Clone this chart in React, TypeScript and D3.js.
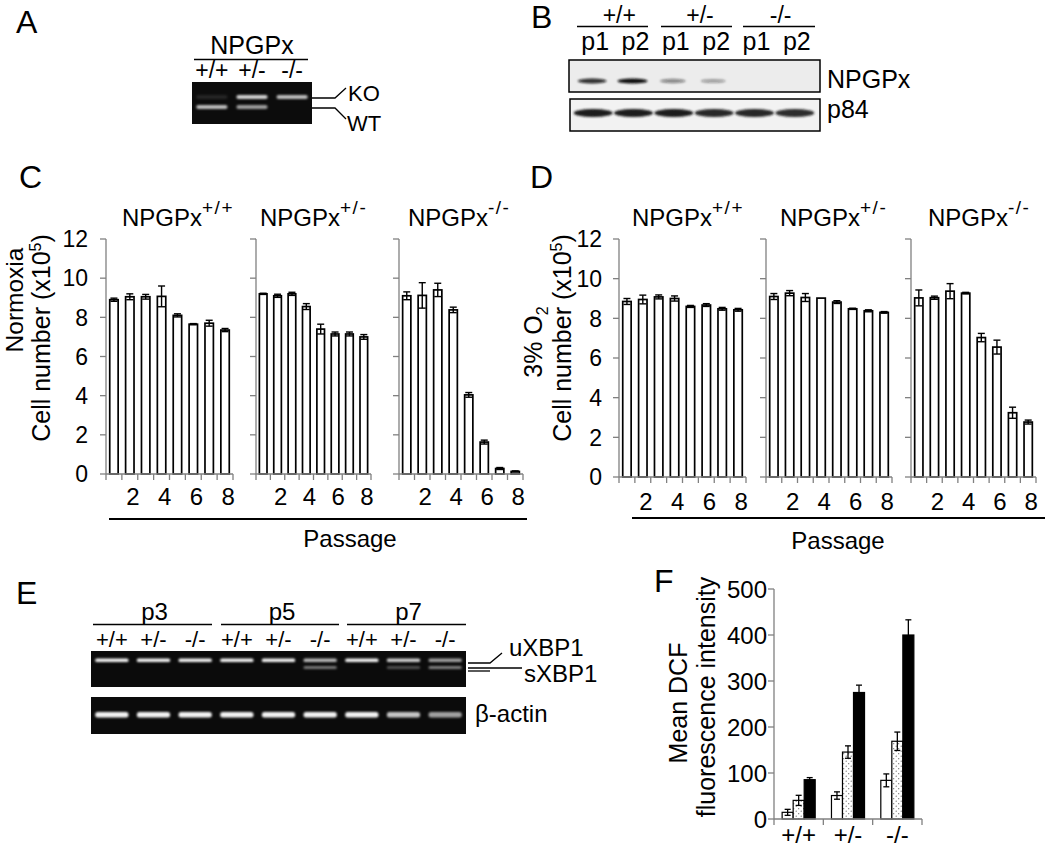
import React from "react";
import * as d3 from "d3";

const FONT = "'Liberation Sans', Arial, Helvetica, sans-serif";
const AXIS = "#808080";

// ---------- Panel A (genotyping PCR) ----------
const gelAGenotypes = ["+/+", "+/-", "-/-"];
const gelAKO = [0.12, 0.95, 0.85];
const gelAWT = [0.85, 0.7, 0.0];

// ---------- Panel B (western blot) ----------
const blotBGroups = ["+/+", "+/-", "-/-"];
const blotBLanes = ["p1", "p2", "p1", "p2", "p1", "p2"];
const blotBNPGPx = [0.85, 1.0, 0.45, 0.35, 0, 0];
const blotBp84 = [1, 1, 1, 0.92, 0.95, 0.9];

// ---------- Panels C / D (cell number) ----------
const passages = [1, 2, 3, 4, 5, 6, 7, 8];
const passageTickLabels = [2, 4, 6, 8];
const cellTicks = [0, 2, 4, 6, 8, 10, 12];
const panelGenotypes = ["+/+", "+/-", "-/-"];

const normoxiaWT = [8.9, 9.05, 9.05, 9.07, 8.1, 7.65, 7.7, 7.35];
const normoxiaWTErr = [0.08, 0.15, 0.12, 0.53, 0.08, 0.03, 0.15, 0.08];
const normoxiaHet = [9.2, 9.1, 9.2, 8.55, 7.4, 7.15, 7.15, 7.0];
const normoxiaHetErr = [0.03, 0.08, 0.08, 0.15, 0.25, 0.1, 0.1, 0.12];
const normoxiaKO = [9.1, 9.12, 9.4, 8.38, 4.04, 1.63, 0.28, 0.13];
const normoxiaKOErr = [0.2, 0.65, 0.34, 0.14, 0.12, 0.1, 0.05, 0.03];

const hypoxiaWT = [8.85, 8.95, 9.08, 9.0, 8.6, 8.67, 8.48, 8.43];
const hypoxiaWTErr = [0.15, 0.22, 0.1, 0.13, 0.05, 0.07, 0.07, 0.07];
const hypoxiaHet = [9.1, 9.27, 9.05, 9.02, 8.82, 8.48, 8.38, 8.3];
const hypoxiaHetErr = [0.15, 0.13, 0.2, 0, 0.07, 0.03, 0.05, 0.04];
const hypoxiaKO = [9.03, 9.04, 9.37, 9.27, 7.03, 6.55, 3.24, 2.77];
const hypoxiaKOErr = [0.4, 0.08, 0.38, 0.04, 0.21, 0.35, 0.28, 0.1];

// ---------- Panel E (XBP1 splicing) ----------
const eGroups = ["p3", "p5", "p7"];
const eGenotypes = ["+/+", "+/-", "-/-"];
const eUXBP1 = [1, 1, 1, 1, 1, 0.75, 1, 0.85, 0.65];
const eSXBP1 = [0, 0, 0, 0, 0, 0.55, 0, 0.35, 0.6];
const eActin = [1, 1, 1, 1, 1, 1, 1, 0.8, 0.65];

// ---------- Panel F (DCF) ----------
const fGroups = ["+/+", "+/-", "-/-"];
const fSeries = ["s1", "s2", "s3"];
const fWhite = [14.5, 51, 84];
const fWhiteErr = [6.5, 8, 14];
const fDotted = [40.5, 145.5, 169];
const fDottedErr = [11, 13.5, 20];
const fBlack = [85.5, 275, 400];
const fBlackErr = [4.5, 16, 33];
const fTicks = [0, 100, 200, 300, 400, 500];

type PanelProps = {
  x0: number;
  x1: number;
  y: d3.ScaleLinear<number, number>;
  values: number[];
  errs: number[];
  showY: boolean;
  title: string;
  titleX: number;
  labelBaseline: number;
  yLabelRight: number;
};

function BarPanel(p: PanelProps) {
  const xb = d3
    .scaleBand<number>()
    .domain(passages)
    .range([p.x0, p.x1])
    .paddingInner(0.47)
    .paddingOuter(0.235);
  const step = (p.x1 - p.x0) / passages.length;
  const y0 = p.y(0);
  const bw = xb.bandwidth();
  return (
    <g>
      <text x={p.titleX} y={226} fontSize={24} fontFamily={FONT}>
        NPGPx
        <tspan fontSize={19} dy={-12} letterSpacing={1.5}>
          {p.title}
        </tspan>
      </text>
      {passages.map((d, i) => (
        <rect
          key={"b" + d}
          x={xb(d)}
          y={p.y(p.values[i])}
          width={bw}
          height={y0 - p.y(p.values[i])}
          fill="#fff"
          stroke="#000"
          strokeWidth={1.7}
        />
      ))}
      {passages.map((d, i) => {
        const cx = (xb(d) as number) + bw / 2;
        const hi = p.y(p.values[i] + p.errs[i]);
        const lo = p.y(p.values[i] - p.errs[i]);
        if (p.errs[i] <= 0) return null;
        return (
          <g key={"e" + d} stroke="#000" strokeWidth={1.4}>
            <line x1={cx} x2={cx} y1={hi} y2={lo} />
            <line x1={cx - 3.5} x2={cx + 3.5} y1={hi} y2={hi} />
            <line x1={cx - 3.5} x2={cx + 3.5} y1={lo} y2={lo} />
          </g>
        );
      })}
      <line x1={p.x0} x2={p.x0} y1={p.y(12)} y2={y0} stroke={AXIS} strokeWidth={1.3} />
      {cellTicks.map((t) => (
        <line key={"yt" + t} x1={p.x0 - 6} x2={p.x0} y1={p.y(t)} y2={p.y(t)} stroke={AXIS} strokeWidth={1.3} />
      ))}
      {p.showY &&
        cellTicks.map((t) => (
          <text
            key={"yl" + t}
            x={p.yLabelRight}
            y={p.y(t)}
            dy="0.36em"
            textAnchor="end"
            fontSize={23}
            fontFamily={FONT}
          >
            {t}
          </text>
        ))}
      <line x1={p.x0} x2={p.x1} y1={y0} y2={y0} stroke={AXIS} strokeWidth={1.3} />
      {d3.range(passages.length + 1).map((i) => (
        <line
          key={"xt" + i}
          x1={p.x0 + i * step}
          x2={p.x0 + i * step}
          y1={y0}
          y2={y0 + 6}
          stroke={AXIS}
          strokeWidth={1.3}
        />
      ))}
      {passageTickLabels.map((t) => (
        <text
          key={"xl" + t}
          x={(xb(t) as number) + bw / 2 + 3}
          y={p.labelBaseline}
          textAnchor="middle"
          fontSize={24}
          fontFamily={FONT}
        >
          {t}
        </text>
      ))}
    </g>
  );
}

function PanelA() {
  const lx = d3.scaleBand<string>().domain(gelAGenotypes).range([193, 311]).paddingInner(0.22).paddingOuter(0.08);
  return (
    <g fontFamily={FONT}>
      <text x={16} y={33} fontSize={32}>A</text>
      <text x={252} y={53.5} fontSize={25} textAnchor="middle">NPGPx</text>
      <line x1={194} x2={308} y1={59.5} y2={59.5} stroke="#000" strokeWidth={1.5} />
      {gelAGenotypes.map((g) => (
        <text key={g} x={(lx(g) as number) + lx.bandwidth() / 2} y={78} fontSize={23} textAnchor="middle">
          {g}
        </text>
      ))}
      <rect x={192} y={82} width={120} height={42} fill="#0c0c0c" />
      <g filter="url(#blurA)">
        {gelAGenotypes.map((g, i) => (
          <g key={"band" + g}>
            <rect x={lx(g)} y={95} width={lx.bandwidth()} height={4} rx={2} fill="#fff" opacity={gelAKO[i] * 0.85} />
            <rect x={lx(g)} y={105} width={lx.bandwidth()} height={4} rx={2} fill="#fff" opacity={gelAWT[i] * 0.85} />
          </g>
        ))}
      </g>
      <polyline points="312,98 335,98 346,88" fill="none" stroke="#000" strokeWidth={1.3} />
      <polyline points="312,108 335,108 346,119" fill="none" stroke="#000" strokeWidth={1.3} />
      <text x={348} y={101} fontSize={22}>KO</text>
      <text x={347} y={131} fontSize={22}>WT</text>
    </g>
  );
}

function PanelB() {
  const lx = d3.scaleBand<number>().domain(d3.range(blotBLanes.length)).range([573, 815]);
  const cx = (i: number) => (lx(i) as number) + lx.bandwidth() / 2;
  const groupLines = [
    [577, 648],
    [661, 732],
    [743, 815],
  ];
  return (
    <g fontFamily={FONT}>
      <text x={531} y={28} fontSize={32}>B</text>
      {blotBGroups.map((g, i) => (
        <g key={g}>
          <line x1={groupLines[i][0]} x2={groupLines[i][1]} y1={26.5} y2={26.5} stroke="#000" strokeWidth={1.5} />
          <text x={(cx(2 * i) + cx(2 * i + 1)) / 2 + 6} y={23} fontSize={23} textAnchor="middle">
            {g}
          </text>
        </g>
      ))}
      {blotBLanes.map((l, i) => (
        <text key={"l" + i} x={cx(i) + 2} y={50} fontSize={25} textAnchor="middle">
          {l}
        </text>
      ))}
      <rect x={569} y={60} width={251} height={32} fill="#ececec" stroke="#000" strokeWidth={1.5} />
      <rect x={570} y={99} width={250} height={32} fill="#f2f2f2" stroke="#000" strokeWidth={1.5} />
      <g filter="url(#blurB)">
        {blotBNPGPx.map((v, i) => (
          <ellipse key={"n" + i} cx={cx(i) - 1} cy={81} rx={15 - (1 - v) * 4} ry={1.8 + v * 0.8} fill="#111" opacity={v} />
        ))}
        {blotBp84.map((v, i) => (
          <ellipse key={"p" + i} cx={cx(i)} cy={113} rx={19.5} ry={4} fill="#1a1a1a" opacity={v} />
        ))}
      </g>
      <text x={827} y={88} fontSize={25}>NPGPx</text>
      <text x={827} y={118} fontSize={25}>p84</text>
    </g>
  );
}

function PanelE() {
  const lanes = d3.range(eGroups.length * eGenotypes.length);
  const lx = d3.scaleBand<number>().domain(lanes).range([91, 466]).paddingInner(0.2).paddingOuter(0.1);
  const cx = (i: number) => (lx(i) as number) + lx.bandwidth() / 2;
  const groupLines = [
    [93, 212],
    [221, 339],
    [347, 466],
  ];
  return (
    <g fontFamily={FONT}>
      <text x={16} y={604} fontSize={32}>E</text>
      {eGroups.map((g, i) => (
        <g key={g}>
          <line x1={groupLines[i][0]} x2={groupLines[i][1]} y1={624.5} y2={624.5} stroke="#000" strokeWidth={1.4} />
          <text x={(groupLines[i][0] + groupLines[i][1]) / 2 + 2} y={620} fontSize={24} textAnchor="middle">
            {g}
          </text>
        </g>
      ))}
      {lanes.map((i) => (
        <text key={"g" + i} x={cx(i)} y={647} fontSize={22} textAnchor="middle">
          {eGenotypes[i % 3]}
        </text>
      ))}
      <rect x={91} y={651} width={375} height={36} fill="#0b0b0b" />
      <rect x={91} y={697} width={375} height={37} fill="#0b0b0b" />
      <g filter="url(#blurE)">
        {lanes.map((i) => (
          <g key={"b" + i}>
            <rect x={lx(i)} y={658.5} width={lx.bandwidth()} height={3.5} rx={1.5} fill="#fff" opacity={eUXBP1[i] * 0.95} />
            <rect x={lx(i)} y={666} width={lx.bandwidth()} height={3} rx={1.5} fill="#fff" opacity={eSXBP1[i] * 0.8} />
            <rect x={lx(i)} y={712} width={lx.bandwidth()} height={5.5} rx={2.5} fill="#fff" opacity={eActin[i] * 0.95} />
          </g>
        ))}
      </g>
      <polyline points="468,663 490,663 502,653" fill="none" stroke="#000" strokeWidth={1.3} />
      <line x1={468} x2={522} y1={668} y2={668} stroke="#000" strokeWidth={1.3} />
      <line x1={468} x2={490} y1={671} y2={671} stroke="#000" strokeWidth={1.3} />
      <text x={509} y={656} fontSize={24}>uXBP1</text>
      <text x={524} y={682} fontSize={24}>sXBP1</text>
      <text x={475} y={722} fontSize={24}>β-actin</text>
    </g>
  );
}

function PanelF() {
  const x0 = 774;
  const x1 = 922;
  const y = d3.scaleLinear().domain([0, 500]).range([819, 589]);
  const gx = d3.scaleBand<string>().domain(fGroups).range([x0, x1]).paddingInner(0.33).paddingOuter(0.165);
  const sx = d3.scaleBand<string>().domain(fSeries).range([0, gx.bandwidth()]);
  const vals = [fWhite, fDotted, fBlack];
  const errs = [fWhiteErr, fDottedErr, fBlackErr];
  const fills = ["#fff", "url(#dots)", "#000"];
  const step = (x1 - x0) / fGroups.length;
  return (
    <g fontFamily={FONT}>
      <text x={654} y={592} fontSize={32}>F</text>
      <text transform="translate(687,703) rotate(-90)" fontSize={25} textAnchor="middle">Mean DCF</text>
      <text transform="translate(715,697) rotate(-90)" fontSize={25} textAnchor="middle">fluorescence intensity</text>
      {fGroups.map((g, gi) =>
        fSeries.map((s, si) => {
          const v = vals[si][gi];
          const bx = (gx(g) as number) + (sx(s) as number);
          const cxm = bx + sx.bandwidth() / 2;
          const hi = y(v + errs[si][gi]);
          const lo = y(v - errs[si][gi]);
          return (
            <g key={g + s}>
              <rect x={bx} y={y(v)} width={sx.bandwidth()} height={y(0) - y(v)} fill={fills[si]} stroke="#000" strokeWidth={1.2} />
              <g stroke="#000" strokeWidth={1.3}>
                <line x1={cxm} x2={cxm} y1={hi} y2={lo} />
                <line x1={cxm - 3} x2={cxm + 3} y1={hi} y2={hi} />
                <line x1={cxm - 3} x2={cxm + 3} y1={lo} y2={lo} />
              </g>
            </g>
          );
        })
      )}
      <line x1={x0} x2={x0} y1={y(500)} y2={y(0)} stroke={AXIS} strokeWidth={1.3} />
      {fTicks.map((t) => (
        <g key={t}>
          <line x1={x0 - 6} x2={x0} y1={y(t)} y2={y(t)} stroke={AXIS} strokeWidth={1.3} />
          <text x={767} y={y(t)} dy="0.36em" textAnchor="end" fontSize={24}>
            {t}
          </text>
        </g>
      ))}
      <line x1={x0} x2={x1} y1={y(0)} y2={y(0)} stroke={AXIS} strokeWidth={1.3} />
      {d3.range(fGroups.length + 1).map((i) => (
        <line key={"t" + i} x1={x0 + i * step} x2={x0 + i * step} y1={y(0)} y2={y(0) + 6} stroke={AXIS} strokeWidth={1.3} />
      ))}
      {fGroups.map((g) => (
        <text key={"l" + g} x={(gx(g) as number) + gx.bandwidth() / 2} y={843} fontSize={24} textAnchor="middle">
          {g}
        </text>
      ))}
    </g>
  );
}

export default function App() {
  const yC = d3.scaleLinear().domain([0, 12]).range([474, 239]);
  const yD = d3.scaleLinear().domain([0, 12]).range([477, 239]);
  const cPanels = [
    { x0: 106, x1: 233, v: normoxiaWT, e: normoxiaWTErr, tx: 122 },
    { x0: 256, x1: 371, v: normoxiaHet, e: normoxiaHetErr, tx: 260 },
    { x0: 399, x1: 523, v: normoxiaKO, e: normoxiaKOErr, tx: 408 },
  ];
  const dPanels = [
    { x0: 619, x1: 746, v: hypoxiaWT, e: hypoxiaWTErr, tx: 632 },
    { x0: 766, x1: 892, v: hypoxiaHet, e: hypoxiaHetErr, tx: 780 },
    { x0: 911, x1: 1036, v: hypoxiaKO, e: hypoxiaKOErr, tx: 928 },
  ];
  return (
    <svg
      width={1050}
      height={849}
      viewBox="0 0 1050 849"
      style={{ position: "absolute", left: 0, top: 0, background: "#fff" }}
      fontFamily={FONT}
    >
      <defs>
        <filter id="blurA" x="-20%" y="-200%" width="140%" height="500%">
          <feGaussianBlur stdDeviation="1.3" />
        </filter>
        <filter id="blurB" x="-20%" y="-200%" width="140%" height="500%">
          <feGaussianBlur stdDeviation="1.1" />
        </filter>
        <filter id="blurE" x="-20%" y="-200%" width="140%" height="500%">
          <feGaussianBlur stdDeviation="1.1" />
        </filter>
        <pattern id="dots" width="5" height="5" patternUnits="userSpaceOnUse">
          <rect width="5" height="5" fill="#fff" />
          <circle cx="1.2" cy="1.2" r="0.6" fill="#666" />
          <circle cx="3.7" cy="3.7" r="0.6" fill="#666" />
        </pattern>
      </defs>
      <rect width={1050} height={849} fill="#fff" />
      <PanelA />
      <PanelB />

      {/* Panel C */}
      <text x={19} y={188} fontSize={32}>C</text>
      <text transform="translate(23,300) rotate(-90)" fontSize={24.5} textAnchor="middle">Normoxia</text>
      <text transform="translate(50,338) rotate(-90)" fontSize={25} textAnchor="middle">
        Cell number (x10<tspan fontSize={16} dy={-9}>5</tspan>
        <tspan dy={9}>)</tspan>
      </text>
      {cPanels.map((p, i) => (
        <BarPanel
          key={"c" + i}
          x0={p.x0}
          x1={p.x1}
          y={yC}
          values={p.v}
          errs={p.e}
          showY={i === 0}
          title={panelGenotypes[i]}
          titleX={p.tx}
          labelBaseline={505}
          yLabelRight={88}
        />
      ))}
      <line x1={109} x2={527} y1={519} y2={519} stroke="#000" strokeWidth={2} />
      <text x={350} y={547} fontSize={24} textAnchor="middle">Passage</text>

      {/* Panel D */}
      <text x={530} y={188} fontSize={32}>D</text>
      <text transform="translate(542,342) rotate(-90)" fontSize={25} textAnchor="middle">
        3% O<tspan fontSize={16} dy={6}>2</tspan>
      </text>
      <text transform="translate(571,338) rotate(-90)" fontSize={25} textAnchor="middle">
        Cell number (x10<tspan fontSize={16} dy={-9}>5</tspan>
        <tspan dy={9}>)</tspan>
      </text>
      {dPanels.map((p, i) => (
        <BarPanel
          key={"d" + i}
          x0={p.x0}
          x1={p.x1}
          y={yD}
          values={p.v}
          errs={p.e}
          showY={i === 0}
          title={panelGenotypes[i]}
          titleX={p.tx}
          labelBaseline={510}
          yLabelRight={602}
        />
      ))}
      <line x1={632} x2={1045} y1={518} y2={518} stroke="#000" strokeWidth={2} />
      <text x={838} y={549} fontSize={24} textAnchor="middle">Passage</text>

      <PanelE />
      <PanelF />
    </svg>
  );
}
